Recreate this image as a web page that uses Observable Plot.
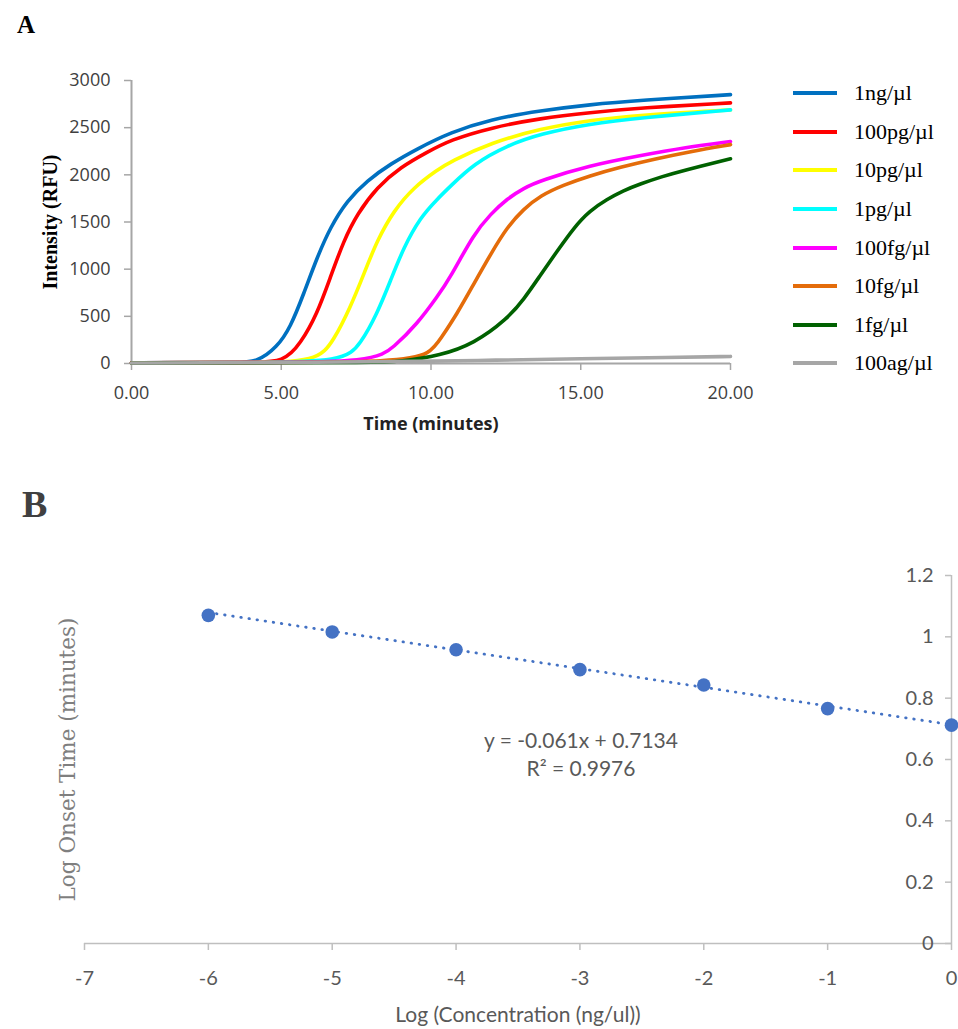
<!DOCTYPE html>
<html><head><meta charset="utf-8">
<script src="https://cdn.jsdelivr.net/npm/d3@7"></script>
<script src="https://cdn.jsdelivr.net/npm/@observablehq/plot@0.6"></script>
<style>
html,body{margin:0;padding:0;background:#fff}
body{width:958px;height:1029px;position:relative;overflow:hidden}
.abs{position:absolute;white-space:nowrap}
</style></head><body>
<div class="abs" style="left:17px;top:12px;font-family:'Liberation Serif',serif;font-weight:bold;font-size:25px;line-height:1;color:#000">A</div>
<div class="abs" style="left:22px;top:485px;font-family:'Liberation Serif',serif;font-weight:bold;font-size:38px;line-height:1;color:#404040">B</div>
<div id="plotA" class="abs" style="left:0;top:0"></div>
<div id="legendA" class="abs" style="left:793px;top:74px;font-family:'Liberation Serif',serif;font-size:22px;color:#000"></div>
<div id="plotB" class="abs" style="left:0;top:540px"></div>
<div id="eqB" class="abs" style="left:381px;top:726px;width:400px;text-align:center;font-family:Lato,sans-serif;font-size:21px;line-height:28px;color:#595959"></div>
<script>
// ---------- Panel A data ----------
const concentrations = ["1ng/µl","100pg/µl","10pg/µl","1pg/µl","100fg/µl","10fg/µl","1fg/µl","100ag/µl"];
const lineColors = ["#0070C0","#FF0000","#FFFF00","#00FFFF","#FF00FF","#E46C0A","#006100","#A6A6A6"];

const time1ng   = [0, 2, 3.5, 4.2, 4.86, 5.31, 5.75, 6.2, 6.64, 7.2, 7.87, 8.65, 9.54, 10.65, 12, 13.66, 15.3, 17, 20];
const rfu1ng    = [8, 10, 12, 15, 173, 385, 739, 1127, 1445, 1728, 1940, 2116, 2276, 2450, 2590, 2680, 2745, 2790, 2850];
const time100pg = [0, 2, 4, 5.09, 5.64, 6.2, 6.64, 7.09, 7.54, 8.2, 8.98, 9.87, 10.65, 12, 13.66, 15.3, 17, 20];
const rfu100pg  = [8, 10, 12, 15, 209, 527, 915, 1304, 1587, 1869, 2081, 2240, 2370, 2500, 2600, 2660, 2710, 2763];
const time10pg  = [0, 4, 6.2, 6.75, 7.31, 7.76, 8.2, 8.76, 9.43, 10.2, 10.65, 12, 13.66, 15.3, 17, 20];
const rfu10pg   = [8, 10, 15, 244, 597, 951, 1304, 1622, 1869, 2050, 2140, 2340, 2490, 2580, 2635, 2689];
const time1pg   = [0, 4, 7.09, 7.65, 8.2, 8.65, 9.09, 9.65, 10.2, 10.65, 11.43, 12.54, 13.66, 15.3, 17, 20];
const rfu1pg    = [8, 10, 15, 209, 527, 880, 1233, 1551, 1740, 1880, 2117, 2311, 2435, 2541, 2604, 2689];
const time100fg = [0, 4, 8.09, 8.76, 9.54, 10.2, 10.65, 11.43, 12, 12.54, 13.1, 13.66, 15.3, 17, 18.5, 20];
const rfu100fg  = [8, 10, 15, 173, 421, 703, 915, 1375, 1587, 1746, 1860, 1940, 2099, 2205, 2290, 2353];
const time10fg  = [0, 4, 8.98, 9.98, 10.32, 10.87, 11.43, 12, 12.54, 13.1, 13.66, 14.4, 15.3, 16.3, 17.5, 18.7, 20];
const rfu10fg   = [8, 10, 15, 103, 262, 527, 845, 1163, 1445, 1640, 1781, 1890, 1990, 2080, 2170, 2250, 2320];
const time1fg   = [0, 4, 8, 9, 10.32, 11.43, 12.54, 13.1, 13.66, 14.21, 14.77, 15.3, 15.88, 16.4, 17, 17.7, 18.4, 20];
const rfu1fg    = [5, 8, 10, 20, 85, 209, 470, 680, 940, 1190, 1440, 1620, 1740, 1830, 1905, 1980, 2045, 2170];
const time100ag = [0, 5, 10, 12, 15, 18, 20];
const rfu100ag  = [5, 10, 22, 35, 50, 65, 75];

const seriesTime = [time1ng, time100pg, time10pg, time1pg, time100fg, time10fg, time1fg, time100ag];
const seriesRfu  = [rfu1ng, rfu100pg, rfu10pg, rfu1pg, rfu100fg, rfu10fg, rfu1fg, rfu100ag];

const xTicksA = [0, 5, 10, 15, 20];
const yTicksA = [0, 500, 1000, 1500, 2000, 2500, 3000];

// ---------- Panel B data ----------
const logConc  = [-6, -5, -4, -3, -2, -1, 0];
const logOnset = [1.07, 1.016, 0.958, 0.893, 0.843, 0.766, 0.712];
const trendSlope = -0.061;
const trendIntercept = 0.7134;
const rSquared = "0.9976";
const xTicksB = [-7, -6, -5, -4, -3, -2, -1, 0];
const yTicksB = [0, 0.2, 0.4, 0.6, 0.8, 1, 1.2];

// ---------- Panel A ----------
const rowsA = concentrations.flatMap((c, i) => seriesTime[i].map((t, j) => ({conc: c, t, v: seriesRfu[i][j]})));

const plotA = Plot.plot({
  width: 760, height: 443,
  marginLeft: 131, marginRight: 30, marginTop: 80, marginBottom: 80,
  style: {fontFamily: "'Open Sans', sans-serif", fontSize: "18px", background: "transparent", overflow: "visible"},
  x: {domain: [0, 20]},
  y: {domain: [0, 3000]},
  color: {domain: concentrations, range: lineColors},
  marks: [
    Plot.ruleY([0], {stroke: "#a6a6a6", strokeWidth: 2}),
    Plot.ruleX([0], {stroke: "#a6a6a6", strokeWidth: 2}),
    Plot.axisX({ticks: xTicksA, tickFormat: d => d.toFixed(2), tickSize: 7, tickPadding: 16, stroke: "#a6a6a6", strokeWidth: 1.5, fill: "#404040", label: null}),
    Plot.axisY({ticks: yTicksA, tickFormat: d => String(d), tickSize: 7, tickPadding: 14, stroke: "#a6a6a6", strokeWidth: 1.5, fill: "#404040", label: null}),
    Plot.line(rowsA, {x: "t", y: "v", z: "conc", stroke: "conc", strokeWidth: 3.6, curve: "basis"}),
    Plot.text(["Time (minutes)"], {text: d => d, frameAnchor: "bottom", dy: 66, fontWeight: "bold", fontSize: 18, fill: "#222"}),
    Plot.text(["Intensity (RFU)"], {text: d => d, frameAnchor: "left", textAnchor: "middle", rotate: -90, dx: -81, fontFamily: "'Liberation Serif', serif", fontWeight: "bold", fontSize: 20, fill: "#000"})
  ]
});
document.getElementById("plotA").appendChild(plotA);

// Legend
const legend = document.getElementById("legendA");
concentrations.forEach((c, i) => {
  const row = document.createElement("div");
  row.style.cssText = "display:flex;align-items:center;height:38.6px";
  const sw = document.createElement("span");
  sw.style.cssText = `display:inline-block;width:44px;height:4px;background:${lineColors[i]};margin-right:17px`;
  const tx = document.createElement("span");
  tx.textContent = c;
  row.appendChild(sw); row.appendChild(tx);
  legend.appendChild(row);
});

// ---------- Panel B ----------
const pointsB = logConc.map((x, i) => ({x, y: logOnset[i]}));
const xMin = d3.min(logConc), xMax = d3.max(logConc);
const trendB = [xMin, xMax].map(x => ({x, y: trendIntercept + trendSlope * x}));

const plotB = Plot.plot({
  width: 958, height: 489,
  marginLeft: 84, marginRight: 7, marginTop: 35, marginBottom: 86,
  style: {fontFamily: "Lato, sans-serif", fontSize: "20px", background: "transparent", overflow: "visible"},
  x: {domain: [-7, 0]},
  y: {domain: [0, 1.2]},
  marks: [
    Plot.ruleY([0], {stroke: "#bfbfbf", strokeWidth: 1.5}),
    Plot.ruleX([0], {stroke: "#bfbfbf", strokeWidth: 1.5}),
    Plot.axisX({ticks: xTicksB, tickFormat: d => String(d), tickSize: 7, tickPadding: 20, stroke: "#bfbfbf", strokeWidth: 1.5, fill: "#595959", label: null}),
    Plot.ruleY(yTicksB, {y: d => d, x1: 0, x2: 0, insetLeft: -6, stroke: "#bfbfbf", strokeWidth: 1.5}),
    Plot.axisY({anchor: "right", ticks: yTicksB, tickFormat: d => String(+d.toFixed(1)), tickSize: 0, tickPadding: 0, textAnchor: "end", dx: -18, fill: "#595959", label: null}),
    Plot.line(trendB, {x: "x", y: "y", stroke: "#4472C4", strokeWidth: 2.8, strokeDasharray: "0.5 7.7", strokeLinecap: "round"}),
    Plot.dot(pointsB, {x: "x", y: "y", r: 6.8, fill: "#4472C4"}),
    Plot.text(["Log (Concentration (ng/ul))"], {text: d => d, frameAnchor: "bottom", dy: 78, fontSize: 21, fill: "#595959"}),
    Plot.text(["Log Onset Time (minutes)"], {text: d => d, frameAnchor: "left", textAnchor: "middle", rotate: -90, dx: -16, fontFamily: "'DejaVu Serif', serif", fontSize: 21.5, fill: "#7f7f7f"})
  ]
});
document.getElementById("plotB").appendChild(plotB);

document.getElementById("eqB").innerHTML =
  `y = ${trendSlope}x + ${trendIntercept}<br>R² = ${rSquared}`;
</script>
</body></html>
